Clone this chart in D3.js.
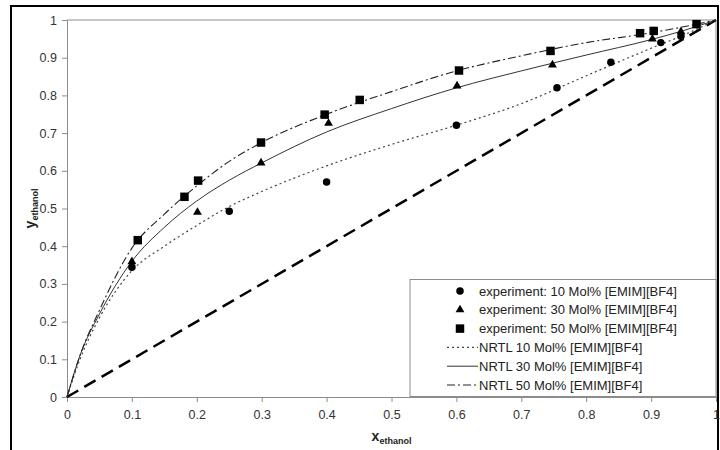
<!DOCTYPE html>
<html>
<head>
<meta charset="utf-8">
<script src="https://cdn.jsdelivr.net/npm/d3@7"></script>
<style>
  body { margin: 0; background: #fff; }
  svg text { font-family: "Liberation Sans", Arial, sans-serif; }
</style>
</head>
<body>
<div id="chart"></div>
<script>
// experimental points [x, y]
var exp10 = [[0.1, 0.344], [0.25, 0.493], [0.4, 0.57], [0.6, 0.721], [0.755, 0.82],
             [0.838, 0.888], [0.915, 0.94], [0.946, 0.957]];
var exp30 = [[0.1, 0.359], [0.201, 0.49], [0.299, 0.621], [0.403, 0.726], [0.601, 0.825],
             [0.748, 0.881], [0.902, 0.95], [0.946, 0.969]];
var exp50 = [[0.109, 0.416], [0.181, 0.531], [0.202, 0.574], [0.299, 0.675], [0.397, 0.749],
             [0.451, 0.788], [0.604, 0.866], [0.745, 0.918], [0.883, 0.965], [0.904, 0.971],
             [0.97, 0.989]];

// NRTL model curves
var nrtlX = [0, 0.02, 0.05, 0.1, 0.15, 0.2, 0.25, 0.3, 0.4, 0.5, 0.6, 0.7, 0.8, 0.9, 0.95, 1];
var nrtl10 = [0, 0.10, 0.21, 0.335, 0.40, 0.455, 0.505, 0.545, 0.613, 0.67, 0.721, 0.778, 0.852, 0.925, 0.96, 1];
var nrtl30 = [0, 0.11, 0.22, 0.36, 0.45, 0.52, 0.575, 0.621, 0.703, 0.765, 0.82, 0.865, 0.907, 0.948, 0.972, 1];
var nrtl50 = [0, 0.11, 0.23, 0.395, 0.485, 0.56, 0.625, 0.675, 0.75, 0.81, 0.865, 0.905, 0.94, 0.966, 0.982, 1];

var ticks = [0, 0.1, 0.2, 0.3, 0.4, 0.5, 0.6, 0.7, 0.8, 0.9, 1];

var legendNames = ["experiment: 10 Mol% [EMIM][BF4]", "experiment: 30 Mol% [EMIM][BF4]",
                   "experiment: 50 Mol% [EMIM][BF4]", "NRTL 10 Mol% [EMIM][BF4]",
                   "NRTL 30 Mol% [EMIM][BF4]", "NRTL 50 Mol% [EMIM][BF4]"];

var W = 720, H = 450;
var svg = d3.select("#chart").append("svg")
    .attr("width", W)
    .attr("height", H);

var x = d3.scaleLinear().domain([0, 1]).range([67, 716]);
var y = d3.scaleLinear().domain([0, 1]).range([397, 20]);

// outer frame
svg.append("rect")
    .attr("x", 11).attr("y", 6)
    .attr("width", 707).attr("height", 460)
    .attr("fill", "none")
    .attr("stroke", "#000")
    .attr("stroke-width", 2);

// plot box (top and right)
svg.append("path")
    .attr("d", "M" + x(0) + "," + y(1) + "H" + x(1) + "V" + y(0))
    .attr("fill", "none")
    .attr("stroke", "#8c8c8c")
    .attr("stroke-width", 1);

var xAxis = svg.append("g")
    .attr("transform", "translate(0," + y(0) + ")")
    .call(d3.axisBottom(x).tickValues(ticks).tickSize(5).tickPadding(8)
        .tickFormat(function(d) { return d3.format("")(d); }));
var yAxis = svg.append("g")
    .attr("transform", "translate(" + x(0) + ",0)")
    .call(d3.axisLeft(y).tickValues(ticks).tickSize(5).tickPadding(5)
        .tickFormat(function(d) { return d3.format("")(d); }));

[xAxis, yAxis].forEach(function(a) {
    a.select(".domain").attr("stroke", "#8c8c8c");
    a.selectAll(".tick line").attr("stroke", "#8c8c8c");
    a.selectAll(".tick text")
        .attr("fill", "#333")
        .style("font-size", "12.5px")
        .style("font-family", "'Liberation Sans', Arial, sans-serif");
});

// x = y diagonal
svg.append("line")
    .attr("x1", x(0)).attr("y1", y(0))
    .attr("x2", x(1)).attr("y2", y(1))
    .attr("stroke", "#000")
    .attr("stroke-width", 2.5)
    .attr("stroke-dasharray", "13,7");

var line = d3.line()
    .x(function(d) { return x(d[0]); })
    .y(function(d) { return y(d[1]); })
    .curve(d3.curveMonotoneX);

var curves = [
    { vals: nrtl10, dash: "2,3", color: "#444", w: 1.2 },
    { vals: nrtl30, dash: null, color: "#333", w: 1 },
    { vals: nrtl50, dash: "8,3,2,3", color: "#222", w: 1.1 }
];

curves.forEach(function(c) {
    var pts = nrtlX.map(function(v, i) { return [v, c.vals[i]]; });
    svg.append("path")
        .datum(pts)
        .attr("d", line)
        .attr("fill", "none")
        .attr("stroke", c.color)
        .attr("stroke-width", c.w)
        .attr("stroke-dasharray", c.dash);
});

var symCircle = d3.symbol().type(d3.symbolCircle).size(44);
var symTri = d3.symbol().type(d3.symbolTriangle).size(34);
var symSquare = d3.symbol().type(d3.symbolSquare).size(72);

function drawPoints(data, sym) {
    svg.append("g").selectAll("path")
        .data(data).enter().append("path")
        .attr("transform", function(d) { return "translate(" + x(d[0]) + "," + y(d[1]) + ")"; })
        .attr("d", sym)
        .attr("fill", "#000");
}
drawPoints(exp10, symCircle);
drawPoints(exp30, symTri);
drawPoints(exp50, symSquare);

// legend
var lg = svg.append("g");
lg.append("rect")
    .attr("x", 410).attr("y", 279.5)
    .attr("width", 306).attr("height", 117)
    .attr("fill", "#fff")
    .attr("stroke", "#8c8c8c")
    .attr("stroke-width", 1);

var syms = [symCircle, symTri, symSquare];
legendNames.forEach(function(name, i) {
    var ry = 291 + i * 18.8;
    if (i < 3) {
        lg.append("path")
            .attr("transform", "translate(460," + ry + ")")
            .attr("d", syms[i])
            .attr("fill", "#000");
    } else {
        var c = curves[i - 3];
        lg.append("line")
            .attr("x1", 447).attr("x2", 478)
            .attr("y1", ry).attr("y2", ry)
            .attr("stroke", c.color)
            .attr("stroke-width", c.w)
            .attr("stroke-dasharray", c.dash);
    }
    lg.append("text")
        .attr("x", 479)
        .attr("y", ry + 4.5)
        .attr("fill", "#222")
        .style("font-size", "13px")
        .text(name);
});

// axis titles
var xt = svg.append("text")
    .attr("x", x(0.5))
    .attr("y", 441)
    .attr("text-anchor", "middle")
    .attr("font-weight", "bold")
    .attr("fill", "#222");
xt.append("tspan").style("font-size", "14px").text("x");
xt.append("tspan").style("font-size", "9px").attr("dy", 3).text("ethanol");

var yt = svg.append("text")
    .attr("transform", "translate(35," + y(0.5) + ") rotate(-90)")
    .attr("text-anchor", "middle")
    .attr("font-weight", "bold")
    .attr("fill", "#222");
yt.append("tspan").style("font-size", "14px").text("y");
yt.append("tspan").style("font-size", "9px").attr("dy", 3).text("ethanol");
</script>
</body>
</html>
